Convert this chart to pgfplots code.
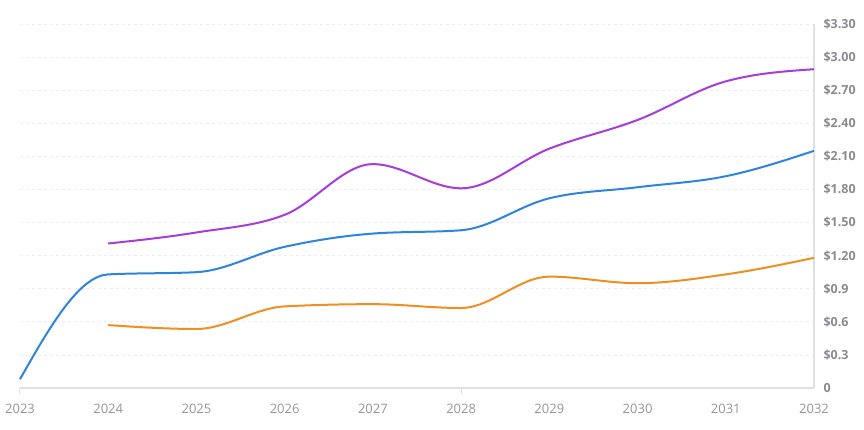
\documentclass[border=0pt]{standalone}
\usepackage{fontspec}
\setmainfont{Open Sans}
\usepackage{pgfplots}
\pgfplotsset{compat=1.18}
\definecolor{purpleLine}{RGB}{166,60,217}
\definecolor{blueLine}{RGB}{44,132,222}
\definecolor{orangeLine}{RGB}{240,142,34}
\definecolor{axisGray}{RGB}{222,224,230}
\definecolor{gridGray}{RGB}{236,236,240}
\definecolor{labelGray}{RGB}{138,138,146}
\definecolor{yearGray}{RGB}{150,150,150}

% monotone cubic plot handler (same curve as d3's curveMonotoneX)
\makeatletter
\newcount\mono@n
\newcount\mono@k
\newcount\mono@j
\def\mono@v#1#2{\csname mono@#1\number#2\endcsname}
\def\mono@set#1#2#3{\expandafter\xdef\csname mono@#1\number#2\endcsname{#3}}
\def\mono@for#1#2#3{\global\mono@k=#1\relax\def\mono@body{#3}\mono@iter{#2}}
\def\mono@iter#1{\ifnum\mono@k>#1\relax\else
  \mono@body\global\advance\mono@k by 1 \expandafter\mono@iter\expandafter{\number#1}\fi}
\def\pgfplothandlermonotone{%
  \def\pgf@plotstreamstart{\global\mono@n=0 }%
  \def\pgf@plotstreampoint##1{%
    \pgf@process{##1}%
    \global\advance\mono@n by 1
    \mono@set{x}{\mono@n}{\pgf@sys@tonumber\pgf@x}%
    \mono@set{y}{\mono@n}{\pgf@sys@tonumber\pgf@y}%
  }%
  \let\pgf@plotstreamspecial\pgfutil@gobble
  \def\pgf@plotstreamend{\mono@build}%
}
\def\mono@build{%
  \ifnum\mono@n>1
    \mono@j=\mono@n \advance\mono@j by -1
    % segment widths and slopes
    \mono@for{1}{\mono@j}{%
      \mono@j=\mono@k \advance\mono@j by 1
      \pgfmathsetmacro\mono@tmpA{\mono@v{x}{\mono@j}-\mono@v{x}{\mono@k}}%
      \pgfmathsetmacro\mono@tmpB{(\mono@v{y}{\mono@j}-\mono@v{y}{\mono@k})/\mono@tmpA}%
      \mono@set{h}{\mono@k}{\mono@tmpA}%
      \mono@set{s}{\mono@k}{\mono@tmpB}%
      \mono@j=\mono@n \advance\mono@j by -1
    }%
    % interior tangents
    \mono@for{2}{\mono@j}{%
      \mono@j=\mono@k \advance\mono@j by -1
      \edef\mono@sa{\mono@v{s}{\mono@j}}\edef\mono@ha{\mono@v{h}{\mono@j}}%
      \edef\mono@sb{\mono@v{s}{\mono@k}}\edef\mono@hb{\mono@v{h}{\mono@k}}%
      \pgfmathsetmacro\mono@tmpA{(\mono@sa)*(\mono@sb)}%
      \pgfmathparse{\mono@tmpA>0 ? 1 : 0}%
      \ifdim\pgfmathresult pt>0.5pt
        \pgfmathsetmacro\mono@tmpB{((\mono@sa)*\mono@hb+(\mono@sb)*\mono@ha)/(\mono@ha+\mono@hb)}%
        \pgfmathsetmacro\mono@tmpC{min(2*abs(\mono@sa),2*abs(\mono@sb),abs(\mono@tmpB))}%
        \pgfmathparse{\mono@sa>0 ? 1 : -1}%
        \pgfmathsetmacro\mono@tmpC{\pgfmathresult*\mono@tmpC}%
      \else
        \def\mono@tmpC{0}%
      \fi
      \mono@set{t}{\mono@k}{\mono@tmpC}%
      \mono@j=\mono@n \advance\mono@j by -1
    }%
    % end tangents
    \ifnum\mono@n>2
      \pgfmathsetmacro\mono@tmpA{(3*(\mono@v{s}{1})-(\mono@v{t}{2}))/2}%
      \mono@set{t}{1}{\mono@tmpA}%
      \mono@j=\mono@n \advance\mono@j by -1
      \pgfmathsetmacro\mono@tmpA{(3*(\mono@v{s}{\mono@j})-(\mono@v{t}{\mono@j}))/2}%
      \mono@set{t}{\mono@n}{\mono@tmpA}%
    \else
      \mono@set{t}{1}{\mono@v{s}{1}}%
      \mono@set{t}{2}{\mono@v{s}{1}}%
    \fi
    % path
    \pgfpathmoveto{\pgfqpoint{\mono@v{x}{1}pt}{\mono@v{y}{1}pt}}%
    \mono@j=\mono@n \advance\mono@j by -1
    \mono@for{1}{\mono@j}{%
      \mono@j=\mono@k \advance\mono@j by 1
      \edef\mono@hh{\mono@v{h}{\mono@k}}%
      \pgfmathsetmacro\mono@ax{\mono@v{x}{\mono@k}+\mono@hh/3}%
      \pgfmathsetmacro\mono@ay{\mono@v{y}{\mono@k}+(\mono@v{t}{\mono@k})*\mono@hh/3}%
      \pgfmathsetmacro\mono@bx{\mono@v{x}{\mono@j}-\mono@hh/3}%
      \pgfmathsetmacro\mono@by{\mono@v{y}{\mono@j}-(\mono@v{t}{\mono@j})*\mono@hh/3}%
      \pgfpathcurveto{\pgfqpoint{\mono@ax pt}{\mono@ay pt}}%
        {\pgfqpoint{\mono@bx pt}{\mono@by pt}}%
        {\pgfqpoint{\mono@v{x}{\mono@j}pt}{\mono@v{y}{\mono@j}pt}}%
      \mono@j=\mono@n \advance\mono@j by -1
    }%
  \fi
}
\tikzset{monotone/.code={\let\tikz@plot@handler=\pgfplothandlermonotone}}
\makeatother

\begin{document}
\begin{tikzpicture}
\begin{axis}[
    scale only axis,
    width=794pt,
    height=364pt,
    xmin=2023, xmax=2032,
    ymin=0, ymax=3.3,
    axis x line=bottom,
    axis y line=right,
    axis line style={draw=axisGray, line width=1.2pt, -},
    xtick={2023,2024,2025,2026,2027,2028,2029,2030,2031,2032},
    ytick={0,0.3,0.6,0.9,1.2,1.5,1.8,2.1,2.4,2.7,3.0,3.3},
    yticklabels={0,\$0.3,\$0.6,\$0.9,\$1.20,\$1.50,\$1.80,\$2.10,\$2.40,\$2.70,\$3.00,\$3.30},
    /pgf/number format/assume math mode=true,
    x tick label style={/pgf/number format/1000 sep={},
        font=\fontsize{13}{15}\selectfont, text=yearGray, yshift=-13pt},
    y tick label style={anchor=west, xshift=6pt,
        font=\bfseries\fontsize{12.5}{14}\selectfont, text=labelGray},
    major tick length=0pt,
    extra x ticks={2023,2028},
    extra x tick labels={},
    extra x tick style={grid=none, tick align=outside, major tick length=6pt,
        major tick style={draw=axisGray, line width=1pt}},
    ymajorgrids,
    grid style={draw=gridGray, dashed, line width=0.8pt},
    clip=false,
    every axis plot/.append style={line width=2pt, monotone, no markers},
]
    % purple series
    \addplot[color=purpleLine] coordinates {
        (2024,1.31) (2025,1.41) (2026,1.57) (2027,2.03) (2028,1.81)
        (2029,2.17) (2030,2.43) (2031,2.78) (2032,2.89)
    };
    % blue series
    \addplot[color=blueLine] coordinates {
        (2023,0.08) (2024,1.03) (2025,1.05) (2026,1.28) (2027,1.40)
        (2028,1.43) (2029,1.72) (2030,1.82) (2031,1.92) (2032,2.15)
    };
    % orange series
    \addplot[color=orangeLine] coordinates {
        (2024,0.57) (2025,0.535) (2026,0.74) (2027,0.76) (2028,0.725)
        (2029,1.01) (2030,0.95) (2031,1.03) (2032,1.18)
    };
\end{axis}
\pgfresetboundingbox
\useasboundingbox (-20pt,-42pt) rectangle (844pt,388pt);
\end{tikzpicture}
\end{document}
